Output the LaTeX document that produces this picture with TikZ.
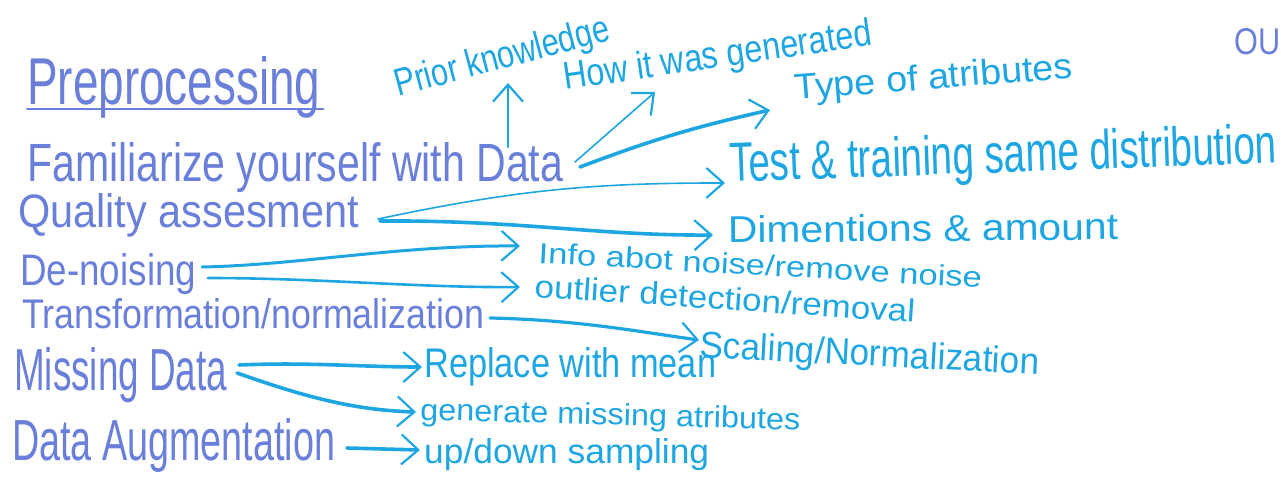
\documentclass[tikz,border=0pt]{standalone}
\usepackage{fontspec}
\usepackage{graphicx}
\setmainfont{Liberation Sans}
\usetikzlibrary{arrows.meta,calc}
\definecolor{hwpurple}{HTML}{6A7FDA}
\definecolor{hwcyan}{HTML}{1EA6E2}
\newcommand{\hwtext}[3]{\resizebox{#1pt}{#2pt}{#3}}
\tikzset{
  lefttxt/.style={anchor=base west, inner sep=0pt, text=hwpurple},
  righttxt/.style={anchor=base west, inner sep=0pt, text=hwcyan},
  arr/.style={draw=hwcyan, line cap=round, line join=round,
    -{Straight Barb[length=17pt,width=30pt,line width=2.2pt]}},
  thick arr/.style={arr, line width=3.6pt},
  thin arr/.style={arr, line width=1.6pt},
}
\begin{document}
\begin{tikzpicture}[x=1pt,y=-1pt]
\useasboundingbox (0,0) rectangle (1281,497);
% left column
\node[lefttxt] (pre) at (27,105) {\hwtext{293}{48}{Preprocessing}};
\draw[hwpurple, line width=2pt, line cap=round] ($(pre.base west)+(0,4)$) -- ($(pre.base east)+(3,4)$);
\node[lefttxt] (fam) at (27,182) {\hwtext{536}{39}{Familiarize yourself with Data}};
\node[lefttxt] (qual) at (18,227) {\hwtext{341}{34}{Quality assesment}};
\node[lefttxt] (den) at (20,285) {\hwtext{176}{32}{De-noising}};
\node[lefttxt] (trans) at (22,328) {\hwtext{462}{30}{Transformation/normalization}};
\node[lefttxt] (miss) at (14,390) {\hwtext{213}{43}{Missing Data}};
\node[lefttxt] (aug) at (12,460) {\hwtext{323}{42}{Data Augmentation}};
\node[lefttxt] (ou) at (1234,55) {\hwtext{46}{26}{OU}};
% right column
\node[righttxt, rotate=15] (prior) at (398,97) {\hwtext{221}{28}{Prior knowledge}};
\node[righttxt, rotate=8.3] (how) at (565,90) {\hwtext{311}{28}{How it was generated}};
\node[righttxt, rotate=4.5] (type) at (795,100) {\hwtext{279}{26}{Type of atributes}};
\node[righttxt, rotate=2] (test) at (730,182) {\hwtext{547}{40}{Test \& training same distribution}};
\node[righttxt, rotate=0.5] (dim) at (728,243) {\hwtext{390}{27}{Dimentions \& amount}};
\node[righttxt, rotate=-3.2] (info) at (538,263) {\hwtext{444}{21}{Info abot noise/remove noise}};
\node[righttxt, rotate=-3.8] (outl) at (534,297) {\hwtext{381}{23}{outlier detection/removal}};
\node[righttxt, rotate=-3] (scal) at (699,357) {\hwtext{340}{27}{Scaling/Normalization}};
\node[righttxt] (repl) at (424,377) {\hwtext{292}{30}{Replace with mean}};
\node[righttxt, rotate=-1.5] (gen) at (420,420) {\hwtext{380}{22}{generate missing atributes}};
\node[righttxt] (updown) at (424,463) {\hwtext{285}{25}{up/down sampling}};
% connectors
\draw[arr, line width=2pt] ($(fam.base west)+(481,-35)$) -- ($(prior.base west)+(110,-14)$);
\draw[thin arr] ($(fam.base west)+(548,-20)$) -- ($(how.base west)+(90,2)$);
\draw[thick arr] ($(fam.base west)+(553,-15)$) to[bend left=4] ($(type.base west)+(-25,10)$);
\draw[thin arr] ($(qual.base west)+(360,-8)$) to[bend left=6] ($(test.base west)+(-5,1)$);
\draw[thick arr] ($(qual.base west)+(362,-6)$) .. controls (520,220) and (600,236) .. ($(dim.base west)+(-15,-8)$);
\draw[arr, line width=3pt] ($(den.base west)+(182,-18)$) .. controls (300,265) and (400,245) .. ($(info.base west)+(-18,-17)$);
\draw[arr, line width=2.6pt] ($(den.base west)+(188,-7)$) .. controls (320,278) and (420,288) .. ($(outl.base west)+(-14,-10)$);
\draw[arr, line width=3.2pt] ($(trans.base west)+(468,-10)$) .. controls (580,320) and (640,332) .. ($(scal.base west)+(0,-17)$);
\draw[thick arr] ($(miss.base west)+(225,-25)$) .. controls (310,362) and (360,367) .. ($(repl.base west)+(-2,-10)$);
\draw[thick arr] ($(miss.base west)+(223,-17)$) .. controls (300,395) and (350,410) .. ($(gen.base west)+(-4,-8)$);
\draw[thick arr] ($(aug.base west)+(335,-12)$) -- ($(updown.base west)+(-4,-13)$);
\end{tikzpicture}
\end{document}
